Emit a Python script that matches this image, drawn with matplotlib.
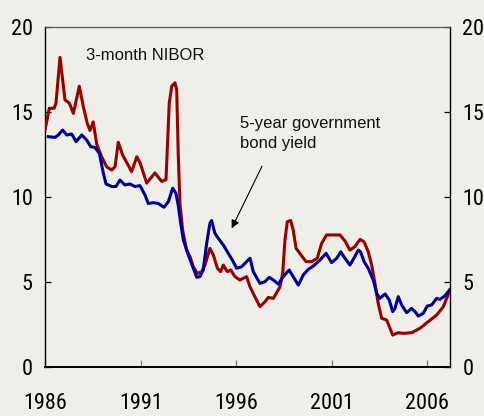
import matplotlib
matplotlib.use("Agg")
import matplotlib.pyplot as plt
from matplotlib import font_manager
from matplotlib.font_manager import FontProperties

# ---------------- data ----------------
nibor_years = [1986.0, 1986.21, 1986.46, 1986.56, 1986.77, 1987.03, 1987.26, 1987.47, 1987.78, 1987.99,
               1988.2, 1988.34, 1988.51, 1988.69, 1988.95, 1989.21, 1989.48, 1989.65, 1989.82, 1990.05,
               1990.29, 1990.52, 1990.79, 1990.96, 1991.31, 1991.74, 1992.09, 1992.32, 1992.49, 1992.62,
               1992.79, 1992.88, 1992.96, 1993.05, 1993.19, 1993.4, 1993.58, 1993.75, 1993.96, 1994.19,
               1994.36, 1994.62, 1994.8, 1995.01, 1995.18, 1995.32, 1995.53, 1995.71, 1995.93, 1996.19,
               1996.54, 1996.72, 1996.89, 1997.24, 1997.5, 1997.68, 1997.94, 1998.29, 1998.43, 1998.55,
               1998.67, 1998.85, 1998.98, 1999.13, 1999.33, 1999.65, 1999.95, 2000.24, 2000.47, 2000.73,
               2001.43, 2001.69, 2001.95, 2002.21, 2002.48, 2002.69, 2002.91, 2003.09, 2003.26, 2003.43,
               2003.61, 2003.87, 2004.05, 2004.19, 2004.48, 2004.74, 2005.18, 2005.62, 2006.05, 2006.49,
               2006.84, 2007.19]
nibor = [14.0, 15.2, 15.2, 15.5, 18.2, 15.7, 15.5, 14.9, 16.5, 15.3,
         14.3, 13.9, 14.4, 13.1, 12.35, 11.76, 11.57, 11.76, 13.2, 12.45,
         11.96, 11.47, 12.35, 12.0, 10.8, 11.4, 10.9, 11.0, 15.5, 16.5,
         16.7, 16.3, 12.55, 9.6, 8.04, 6.86, 6.47, 5.88, 5.49, 5.59,
         5.98, 6.96, 6.57, 5.79, 5.59, 5.98, 5.59, 5.69, 5.3, 5.1,
         5.3, 4.7, 4.3, 3.53, 3.82, 4.08, 4.02, 4.7, 5.5, 7.45,
         8.53, 8.6, 8.04, 6.96, 6.67, 6.18, 6.18, 6.38, 7.26, 7.75,
         7.75, 7.4, 6.86, 7.06, 7.49, 7.35, 6.76, 5.98, 4.9, 3.73,
         2.85, 2.75, 2.26, 1.86, 2.0, 1.96, 2.0, 2.26, 2.65, 3.04,
         3.53, 4.5]

bond_years = [1986.16, 1986.51, 1986.68, 1986.91, 1987.12, 1987.38, 1987.61, 1987.91, 1988.17, 1988.38,
              1988.6, 1988.83, 1989.04, 1989.18, 1989.48, 1989.7, 1989.91, 1990.17, 1990.43, 1990.69,
              1990.96, 1991.22, 1991.39, 1991.65, 1991.92, 1992.21, 1992.44, 1992.67, 1992.84, 1992.96,
              1993.09, 1993.23, 1993.49, 1993.75, 1993.93, 1994.1, 1994.27, 1994.45, 1994.62, 1994.71,
              1994.88, 1995.06, 1995.32, 1995.58, 1995.84, 1996.02, 1996.28, 1996.54, 1996.72, 1996.89,
              1997.24, 1997.5, 1997.73, 1997.94, 1998.2, 1998.46, 1998.77, 1998.98, 1999.25, 1999.51,
              1999.77, 2000.03, 2000.38, 2000.7, 2000.99, 2001.26, 2001.47, 2001.69, 2001.95, 2002.16,
              2002.39, 2002.51, 2002.69, 2002.91, 2003.17, 2003.35, 2003.52, 2003.79, 2004.01, 2004.19,
              2004.31, 2004.48, 2004.66, 2004.92, 2005.18, 2005.36, 2005.53, 2005.79, 2006.0, 2006.23,
              2006.49, 2006.66, 2006.92, 2007.19]
bond = [13.53, 13.49, 13.63, 13.92, 13.63, 13.69, 13.24, 13.63, 13.33, 12.94,
        12.9, 12.55, 11.38, 10.75, 10.6, 10.6, 10.98, 10.69, 10.75, 10.6,
        10.65, 10.1, 9.6, 9.65, 9.6, 9.38, 9.7, 10.5, 10.2, 9.5,
        8.44, 7.45, 6.57, 5.79, 5.26, 5.3, 5.69, 7.26, 8.44, 8.6,
        7.85, 7.55, 7.16, 6.67, 6.18, 5.79, 5.88, 6.18, 6.38, 5.59,
        4.9, 5.0, 5.26, 5.1, 4.86, 5.3, 5.69, 5.3, 4.8, 5.4,
        5.73, 5.92, 6.27, 6.67, 6.12, 6.38, 6.76, 6.38, 5.98, 6.38,
        6.86, 6.76, 6.18, 5.79, 5.1, 4.32, 4.02, 4.28, 3.92, 3.24,
        3.43, 4.12, 3.63, 3.18, 3.43, 3.24, 2.98, 3.14, 3.57, 3.63,
        4.02, 3.96, 4.16, 4.55]

x_ticks = [1986, 1991, 1996, 2001, 2006]
y_ticks = [0, 5, 10, 15, 20]

# ---------------- fonts ----------------
def pick_narrow():
    fl = font_manager.fontManager.ttflist
    prefs = ["Liberation Sans Narrow", "Arial Narrow", "Roboto Condensed",
             "Open Sans Condensed", "Noto Sans Condensed"]
    for p in prefs:
        for f in fl:
            if f.name == p and f.weight in (400, "normal", "regular") and f.style == "normal":
                return FontProperties(fname=f.fname), True
    for f in fl:
        if f.name == "DejaVu Sans" and "Condensed" in f.fname and "Bold" not in f.fname \
                and "Oblique" not in f.fname:
            return FontProperties(fname=f.fname), True
    return FontProperties(family="Liberation Sans"), False

tick_fp, is_narrow = pick_narrow()
tick_size = 16 if is_narrow else 14
text_font = "Liberation Sans"

bg = "#F0EEE8"
red = "#990000"
blue = "#000099"

fig = plt.figure(figsize=(4.85, 4.16), dpi=100, facecolor=bg)
ax = fig.add_axes([0.0934, 0.1185, 0.8344, 0.8173], facecolor=bg)

ax.plot(nibor_years, nibor, color=red, lw=2.2, solid_joinstyle="round", zorder=3)
ax.plot(bond_years, bond, color=blue, lw=2.2, solid_joinstyle="round", zorder=3)

ax.set_xlim(1986, 2007.19)
ax.set_ylim(0, 20)
ax.set_xticks(x_ticks)
ax.set_yticks(y_ticks)

for s in ["left", "right", "bottom"]:
    ax.spines[s].set_color("black")
    ax.spines[s].set_linewidth(1.0)
ax.spines["bottom"].set_linewidth(1.4)
ax.spines["top"].set_color("#555555")
ax.spines["top"].set_linewidth(0.9)

ax.tick_params(axis="y", direction="in", length=4.5, width=0.9, color="black",
               left=True, right=True, labelleft=True, labelright=True, pad=9)
ax.tick_params(axis="x", direction="in", length=5, width=0.9, color="#777777", pad=19)

for t in ax.xaxis.get_major_ticks():
    t.label1.set_fontproperties(tick_fp)
    t.label1.set_fontsize(tick_size)
for t in ax.yaxis.get_major_ticks():
    for lab in (t.label1, t.label2):
        lab.set_fontproperties(tick_fp)
        lab.set_fontsize(tick_size)

ax.text(1988.13, 18.33, "3-month NIBOR", fontsize=12, family=text_font,
        ha="left", va="center", color="#111111")
ax.text(1996.19, 13.72, "5-year government\nbond yield", fontsize=12, family=text_font,
        ha="left", va="center", linespacing=1.35, color="#111111")
ax.annotate("", xy=(1995.76, 8.14), xytext=(1997.35, 11.8),
            arrowprops=dict(arrowstyle="-|>", color="black", lw=0.8,
                            mutation_scale=12, shrinkA=0, shrinkB=0))

fig.savefig("out.png", dpi=100, facecolor=bg)
